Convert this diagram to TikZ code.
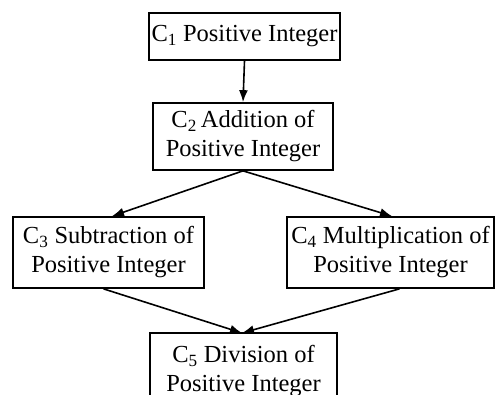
\documentclass[tikz,border=0pt]{standalone}
\usepackage{fontspec}
\setmainfont{Liberation Serif}
\usetikzlibrary{arrows.meta,calc}
\begin{document}
\begin{tikzpicture}[x=1pt,y=1pt,
  box/.style={draw,line width=1.7pt,align=center,inner sep=0pt,
    font=\fontsize{24.5}{29}\selectfont},
  arr/.style={-{Latex[length=12pt,width=9pt]},line width=1.6pt}]
\useasboundingbox (0,0) rectangle (495,-394);
\clip (0,0) rectangle (495,-394);
\node[box,minimum width=191pt,minimum height=47pt] (c1) at (244.5,-36.5) {C\textsubscript{1} Positive Integer};
\node[box,minimum width=180pt,minimum height=67pt] (c2) at (243,-136.5) {C\textsubscript{2}\,Addition of\\Positive Integer};
\node[box,minimum width=191pt,minimum height=71pt] (c3) at (108.5,-252.5) {C\textsubscript{3} Subtraction of\\Positive Integer};
\node[box,minimum width=207pt,minimum height=71pt] (c4) at (390.5,-252.5) {C\textsubscript{4} Multiplication of\\Positive Integer};
\node[box,minimum width=187pt,minimum height=71pt,text depth=0pt] (c5) at (243.5,-368.5) {C\textsubscript{5} Division of\\Positive Integer};
\coordinate (c5in) at (242,-333);
\draw[arr] (c1.south) -- (c2.north);
\draw[arr] (c2.south) -- ($(c3.north)+(3.5,0)$);
\draw[arr] (c2.south) -- ($(c4.north)+(1.5,0)$);
\draw[arr] ($(c3.south)+(-5,0)$) -- (c5in);
\draw[arr] ($(c4.south)+(9,0)$) -- (c5in);
\end{tikzpicture}
\end{document}
